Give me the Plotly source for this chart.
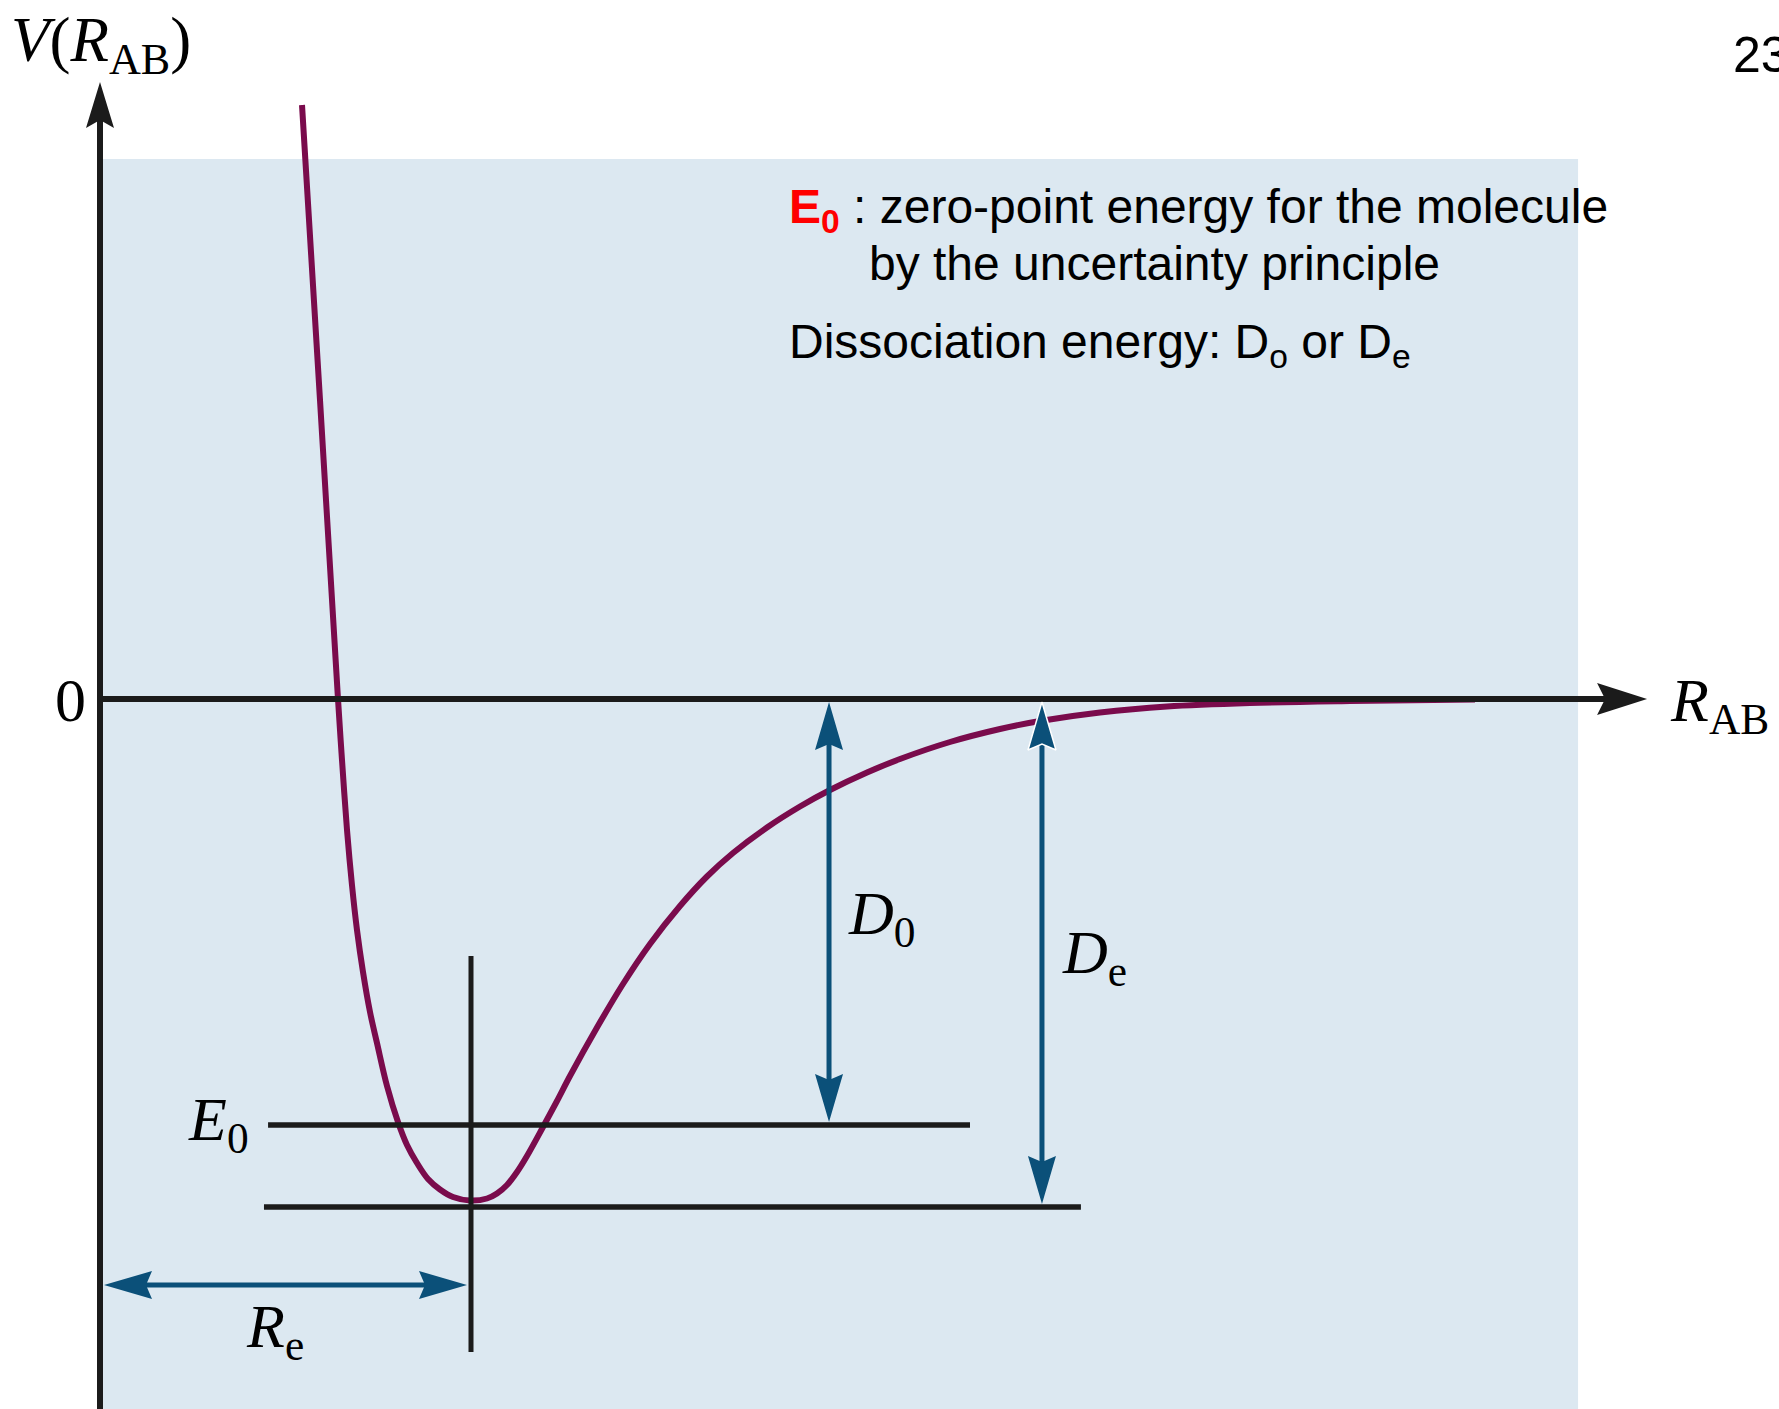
import plotly.graph_objects as go

W, H = 1779, 1409

# Pixel scale of the drawing: R = 0 sits on the vertical axis, V = 0 on the horizontal axis
X0_PX, PX_PER_R = 100, 371.0
Y0_PX, PX_PER_V = 699, 500.0

# Potential energy curve V(R_AB); R in units of R_e, V in units of the well depth
R_curve = [0.5445, 0.5930, 0.6415, 0.6523, 0.6658, 0.6792, 0.6927, 0.7089, 0.7278, 0.7466,
           0.7736, 0.8032, 0.8275, 0.8544, 0.8841, 0.9164, 0.9515, 0.9973, 1.0431, 1.0701,
           1.0970, 1.1240, 1.1509, 1.1941, 1.2318, 1.2668, 1.3396, 1.4097, 1.4825, 1.5633,
           1.6361, 1.7062, 1.7978, 1.8868, 1.9677, 2.0674, 2.1563, 2.2911, 2.4259, 2.5337,
           2.6954, 2.8760, 3.0997, 3.3693, 3.7062]
V_curve = [1.188, 0.598, 0.000, -0.122, -0.262, -0.372, -0.462, -0.546, -0.626, -0.688,
           -0.774, -0.846, -0.892, -0.928, -0.960, -0.981, -0.996, -1.003, -0.999, -0.989,
           -0.972, -0.946, -0.914, -0.856, -0.804, -0.754, -0.657, -0.570, -0.490, -0.414,
           -0.355, -0.308, -0.257, -0.215, -0.182, -0.147, -0.120, -0.086, -0.060, -0.044,
           -0.027, -0.015, -0.008, -0.004, -0.001]

# Characteristic values
R_e = 1.0          # equilibrium bond length
E_0 = -0.852       # zero-point level
V_floor = -1.016   # bottom of the well
V_zero = 0.0       # dissociation limit

# Extents of the reference lines
E0_span = [0.453, 2.345]
floor_span = [0.442, 2.644]
Re_tick_span = [-0.514, -1.306]
D0_at_R = 1.965
De_at_R = 2.539
Re_arrow_at_V = -1.172
y_axis_top = 1.234
x_axis_end = 4.170
panel_R = [0.005, 3.984]
panel_V = [-1.42, 1.080]

BLACK = "#1b1b1b"
CURVE = "#7a0b4c"
ARROW = "#0b5079"
PANEL = "#dce8f1"
SERIF = "Liberation Serif, Times New Roman, serif"
SANS = "Liberation Sans, Arial, sans-serif"

x_range = [-X0_PX / PX_PER_R, (W - X0_PX) / PX_PER_R]
y_range = [(Y0_PX - H) / PX_PER_V, Y0_PX / PX_PER_V]


def px_to_R(px):
    return (px - X0_PX) / PX_PER_R


def px_to_V(py):
    return (Y0_PX - py) / PX_PER_V


def head(tip_r, tip_v, ux, uy, length, width, notch):
    """Notched arrowhead polygon; direction (ux, uy) in screen space, y up."""
    tx, ty = tip_r * PX_PER_R, tip_v * PX_PER_V
    bx, by = tx - ux * length, ty - uy * length
    nx, ny = -uy, ux
    cx, cy = tx - ux * (length - notch), ty - uy * (length - notch)
    pts = [(tx, ty), (bx + nx * width / 2, by + ny * width / 2), (cx, cy),
           (bx - nx * width / 2, by - ny * width / 2), (tx, ty)]
    xs = [p[0] / PX_PER_R for p in pts]
    ys = [p[1] / PX_PER_V for p in pts]
    back = ((tx - ux * (length - notch - 2)) / PX_PER_R, (ty - uy * (length - notch - 2)) / PX_PER_V)
    return xs, ys, back


fig = go.Figure()


def line(xs, ys, color, width):
    fig.add_trace(go.Scatter(x=xs, y=ys, mode="lines", line=dict(color=color, width=width),
                             hoverinfo="skip", showlegend=False))


def filled(xs, ys, color, outline=None):
    fig.add_trace(go.Scatter(x=xs, y=ys, mode="lines", fill="toself", fillcolor=color,
                             line=dict(color=outline or color, width=1.5 if outline else 0),
                             hoverinfo="skip", showlegend=False))


# Potential energy curve
fig.add_trace(go.Scatter(x=R_curve, y=V_curve, mode="lines",
                         line=dict(color=CURVE, width=6, shape="spline", smoothing=1.0),
                         hoverinfo="skip", showlegend=False))

# Axes with arrowheads
hx, hy, hb = head(0.0, y_axis_top, 0, 1, 46, 28, 8)
line([0.0, 0.0], [y_range[0], hb[1]], BLACK, 6)
filled(hx, hy, BLACK)
hx, hy, hb = head(x_axis_end, V_zero, 1, 0, 50, 32, 8)
line([0.0, hb[0]], [V_zero, V_zero], BLACK, 6)
filled(hx, hy, BLACK)

# Zero-point level, well bottom and equilibrium marker
line(E0_span, [E_0, E_0], BLACK, 5.5)
line(floor_span, [V_floor, V_floor], BLACK, 5.5)
line([R_e, R_e], Re_tick_span, BLACK, 5)


# Double-headed dimension arrows
def dim_arrow_v(r, v_top, v_bot, outline_top=None):
    off = 3 / PX_PER_V
    tx, ty, tb = head(r, v_top - off, 0, 1, 48, 28, 6)
    bx, by, bb = head(r, v_bot + off, 0, -1, 48, 28, 6)
    line([r, r], [bb[1], tb[1]], ARROW, 5)
    filled(tx, ty, ARROW, outline_top)
    filled(bx, by, ARROW)


dim_arrow_v(D0_at_R, V_zero, E_0)
dim_arrow_v(De_at_R, V_zero, V_floor, outline_top="#ffffff")

off = 4 / PX_PER_R
lx, ly, lb = head(0.0 + off, Re_arrow_at_V, -1, 0, 48, 28, 6)
rx, ry, rb = head(R_e - off, Re_arrow_at_V, 1, 0, 48, 28, 6)
line([lb[0], rb[0]], [Re_arrow_at_V, Re_arrow_at_V], ARROW, 5)
filled(lx, ly, ARROW)
filled(rx, ry, ARROW)

# Background panel
fig.add_shape(type="rect", xref="x", yref="y", x0=panel_R[0], x1=panel_R[1],
              y0=panel_V[0], y1=panel_V[1], fillcolor=PANEL, line=dict(width=0), layer="below")


def label(text, px, py, size, family, xanchor="left", color="black"):
    fig.add_annotation(x=px_to_R(px), y=px_to_V(py), xref="x", yref="y", text=text,
                       showarrow=False, xanchor=xanchor, yanchor="middle",
                       font=dict(size=size, family=family, color=color))


label("<i>V</i>(<i>R</i><sub>AB</sub>)", 9, 44, 63, SERIF)
label("0", 70, 700, 62, SERIF, xanchor="center")
label("<i>R</i><sub>AB</sub>", 1668, 704, 62, SERIF)
label("<i>E</i><sub>0</sub>", 186, 1123, 62, SERIF)
label("<i>R</i><sub>e</sub>", 244, 1330, 62, SERIF)
label("<i>D</i><sub>0</sub>", 846, 917, 62, SERIF)
label("<i>D</i><sub>e</sub>", 1060, 956, 62, SERIF)
label("23", 1731, 55, 50, SANS)

label("<span style='color:#ff0000'><b>E<sub>0</sub></b></span> : zero-point energy for the molecule",
      787, 210, 48, SANS)
label("by the uncertainty principle", 867, 263, 48, SANS)
label("Dissociation energy: D<sub>o</sub> or D<sub>e</sub>", 787, 345, 48, SANS)

fig.update_layout(
    width=W, height=H, margin=dict(l=0, r=0, t=0, b=0),
    paper_bgcolor="white", plot_bgcolor="white", showlegend=False,
    xaxis=dict(range=x_range, visible=False, fixedrange=True),
    yaxis=dict(range=y_range, visible=False, fixedrange=True),
)

fig.write_html("out.html", config={"displayModeBar": False, "staticPlot": True},
               post_script="document.body.style.margin='0';document.body.style.overflow='hidden';")
